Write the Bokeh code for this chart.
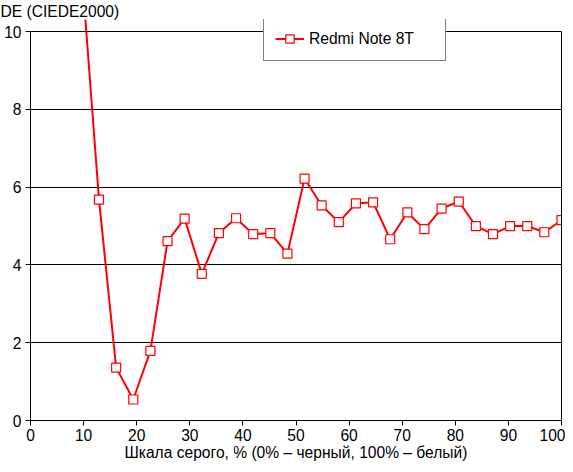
from bokeh.plotting import figure
from bokeh.models import Range1d, Legend, LegendItem, FixedTicker, LinearAxis
from bokeh.embed import file_html
from bokeh.resources import INLINE

gray_pct = [9.68, 12.90, 16.13, 19.35, 22.58, 25.81, 29.03, 32.26, 35.48, 38.71,
            41.94, 45.16, 48.39, 51.61, 54.84, 58.06, 61.29, 64.52, 67.74, 70.97,
            74.19, 77.42, 80.65, 83.87, 87.10, 90.32, 93.55, 96.77, 100.0]
de_values = [11.5, 5.68, 1.36, 0.54, 1.79, 4.61, 5.19, 3.77, 4.82, 5.20,
             4.79, 4.82, 4.29, 6.22, 5.53, 5.10, 5.58, 5.61, 4.66, 5.35,
             4.92, 5.45, 5.63, 5.00, 4.79, 5.00, 5.00, 4.84, 5.15]
x_ticks = [0, 10, 20, 30, 40, 50, 60, 70, 80, 90, 100]
y_ticks = [0, 2, 4, 6, 8, 10]
series_name = "Redmi Note 8T"
y_title = "DE (CIEDE2000)"
x_title = "Шкала серого, % (0% – черный, 100% – белый)"

FONT = "Liberation Sans"
FS = "15.6px"
RED = "#ff0000"

p = figure(width=565, height=464, output_backend="svg", toolbar_location=None,
           x_range=Range1d(0, 100), y_range=Range1d(0, 10.31),
           min_border_left=30, min_border_right=4, min_border_top=18, min_border_bottom=44)
p.background_fill_color = "white"
p.border_fill_color = "white"
p.outline_line_color = None

p.title.text = y_title
p.title.align = "left"
p.title.offset = -30
p.title.standoff = 0
p.title.text_font = FONT
p.title.text_font_size = FS
p.title.text_font_style = "normal"
p.title.text_color = "black"

p.xgrid.visible = False
p.ygrid.grid_line_color = "black"
p.ygrid.grid_line_width = 1
p.ygrid.ticker = FixedTicker(ticks=y_ticks)

for ax in (p.xaxis[0], p.yaxis[0]):
    ax.axis_line_color = "black"
    ax.major_tick_line_color = "black"
    ax.major_tick_in = 0
    ax.major_tick_out = 5
    ax.minor_tick_line_color = None
    ax.major_label_text_font = FONT
    ax.major_label_text_font_size = FS
    ax.major_label_text_color = "black"

p.xaxis.ticker = FixedTicker(ticks=x_ticks)
p.xaxis.major_label_standoff = 3
p.yaxis.ticker = FixedTicker(ticks=y_ticks)
p.yaxis.major_label_standoff = 4
p.yaxis.bounds = (0, 10)
p.xaxis.axis_label = x_title
p.xaxis.axis_label_text_font = FONT
p.xaxis.axis_label_text_font_size = FS
p.xaxis.axis_label_text_font_style = "normal"
p.xaxis.axis_label_text_color = "black"
p.xaxis.axis_label_standoff = 0

right_axis = LinearAxis(bounds=(0, 10), ticker=FixedTicker(ticks=[]),
                        axis_line_color="black", major_tick_line_color=None,
                        minor_tick_line_color=None, major_label_text_font_size="0px",
                        major_label_standoff=0)
p.add_layout(right_axis, "right")

line_r = p.line(gray_pct, de_values, line_color=RED, line_width=2)
sq_r = p.scatter(gray_pct, de_values, marker="square", size=9,
                 fill_color="white", line_color=RED, line_width=1.2)

legend = Legend(items=[LegendItem(label=series_name, renderers=[line_r, sq_r])],
                location=(233, 359), padding=11, spacing=0, margin=0,
                glyph_width=29, glyph_height=21, label_height=21, label_width=125,
                label_standoff=5,
                label_text_font=FONT, label_text_font_size=FS, label_text_color="black",
                border_line_color="black", border_line_width=1,
                background_fill_color="white", background_fill_alpha=1.0)
p.add_layout(legend, "center")

open("out.html", "w").write(file_html(p, INLINE))
